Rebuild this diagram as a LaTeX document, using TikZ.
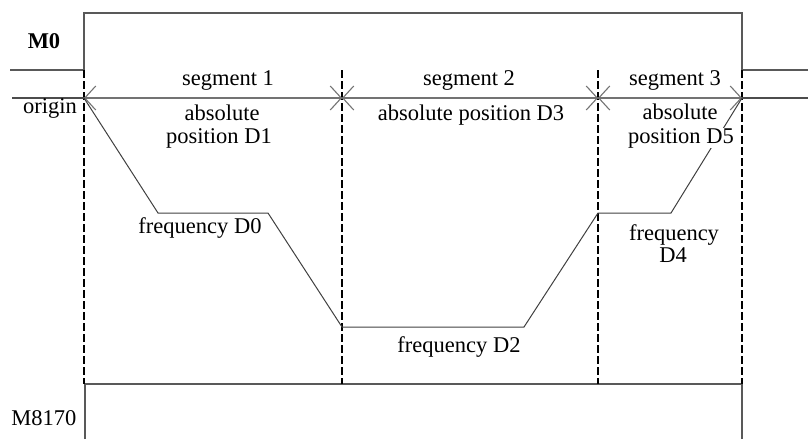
\documentclass[tikz,border=0pt]{standalone}
\usepackage{fontspec}
\setmainfont{Liberation Serif}
\usetikzlibrary{arrows.meta}
\begin{document}
\begin{tikzpicture}[x=1pt,y=-1pt,
  sig/.style={draw=black!65,line width=1.5pt},
  guide/.style={draw=black,line width=2pt,dash pattern=on 7.5pt off 3.5pt},
  curve/.style={draw=black!75,line width=1pt},
  axisline/.style={draw=black!70,line width=1.4pt},
  span/.style={draw=black!55,line width=1.1pt,{Straight Barb[length=11pt,width=24pt]}-{Straight Barb[length=11pt,width=24pt]}},
  lbl/.style={font=\fontsize{22.5}{24}\selectfont,anchor=base,inner sep=0pt}]
\useasboundingbox (0,0) rectangle (808,439);
% coordinates
\coordinate (axL) at (12,98);
\coordinate (axR) at (808,98);
\coordinate (a0) at (84,98);
\coordinate (a1) at (342,98);
\coordinate (a2) at (598,98);
\coordinate (a3) at (742,98);
\foreach \n/\x in {0/84,1/342,2/598,3/742}{
  \coordinate (t\n) at (\x,70);
  \coordinate (b\n) at (\x,384);
}
% M0 signal
\coordinate (m0s) at (10,70);
\coordinate (m0u) at (84,13);
\coordinate (m0v) at (742,13);
\coordinate (m0e) at (808,70);
\draw[sig] (m0s) -- (t0) -- (m0u) -- (m0v) -- (t3) -- (m0e);
% M8170 signal
\coordinate (ms) at (85,439);
\coordinate (mt) at (85,384);
\coordinate (me) at (742,439);
\draw[sig] (ms) -- (mt) -- (b3) -- (me);
% dashed guides
\foreach \n in {0,1,2,3}{ \draw[guide] (t\n) -- (b\n); }
% axis
\draw[axisline] (axL) -- (axR);
\draw[span] (a0) -- (a1);
\draw[span] (a1) -- (a2);
\draw[span] (a2) -- (a3);
% frequency curve
\coordinate (f1) at (158,213);
\coordinate (f2) at (268,213);
\coordinate (f3) at (342,327);
\coordinate (f4) at (524,327);
\coordinate (f5) at (598,213);
\coordinate (f6) at (671,213);
\draw[curve] (a0) -- (f1) -- (f2) -- (f3) -- (f4) -- (f5) -- (f6) -- (a3);
% labels
\node[lbl,font=\fontsize{22.5}{24}\selectfont\bfseries] (lm0) at (44,48) {M0};
\node[lbl] (lorig) at (50,113) {origin};
\node[lbl] (lm8170) at (44,425) {M8170};
\node[lbl] (s1) at (228,85) {segment 1};
\node[lbl] (s2) at (469,85) {segment 2};
\node[lbl] (s3) at (675,85) {segment 3};
\node[lbl] (p1a) at (222,120) {absolute};
\node[lbl] (p1b) at (219,143) {position D1};
\node[lbl] (p3) at (471,120) {absolute position D3};
\node[lbl,fill=white] (p5a) at (680,119) {absolute};
\node[lbl,fill=white] (p5b) at (681,143) {position D5};
\node[lbl] (fd0) at (200,233) {frequency D0};
\node[lbl] (fd2) at (459,352) {frequency D2};
\node[lbl] (fd4a) at (674,240) {frequency};
\node[lbl] (fd4b) at (673,262) {D4};
\end{tikzpicture}
\end{document}
